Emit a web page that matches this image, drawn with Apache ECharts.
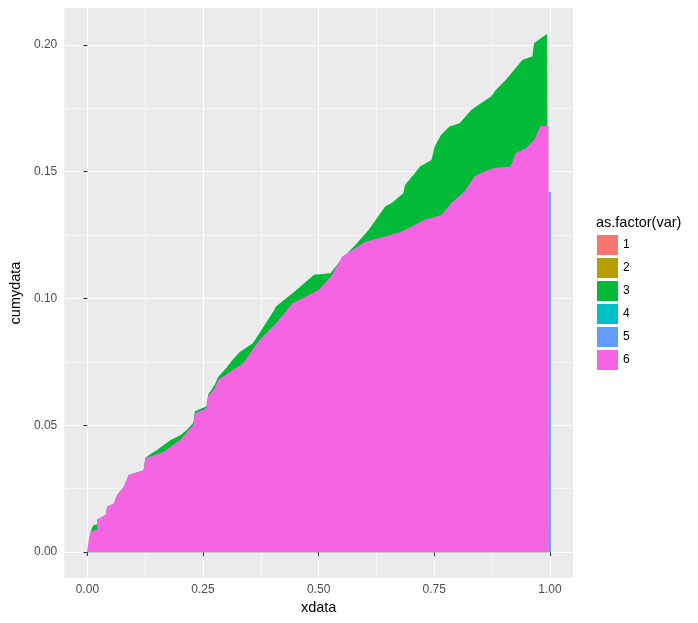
<!DOCTYPE html>
<html>
<head>
<meta charset="utf-8">
<script src="https://cdn.jsdelivr.net/npm/echarts@6/dist/echarts.min.js"></script>
<style>
  html, body { margin: 0; padding: 0; background: #ffffff; }
  #chart { width: 698px; height: 623px; }
</style>
</head>
<body>
<div id="chart"></div>
<script>
// ---- data ----
const categories = ['1', '2', '3', '4', '5', '6'];
const categoryColors = ['#F8766D', '#B79F00', '#00BA38', '#00BFC4', '#619CFF', '#F564E3'];

const xTicks = [0, 0.25, 0.5, 0.75, 1];
const xMinorTicks = [0.125, 0.375, 0.625, 0.875];
const yTicks = [0, 0.05, 0.1, 0.15, 0.2];
const yMinorTicks = [0.025, 0.075, 0.125, 0.175];

// var 6 (bottom of stack): cumulative top [xdata, cumydata]
const var6Points = [
  [0, 0.0005], [0.004, 0.006], [0.0073, 0.0080], [0.0215, 0.0090], [0.0215, 0.0129],
  [0.0395, 0.0146], [0.0429, 0.0179], [0.0573, 0.0192], [0.0644, 0.0225], [0.0788, 0.0258],
  [0.0895, 0.0304], [0.1217, 0.0323], [0.1253, 0.0370], [0.1648, 0.0396], [0.2004, 0.0442],
  [0.2290, 0.0501], [0.2326, 0.0547], [0.2575, 0.0567], [0.2611, 0.0613], [0.2755, 0.0646],
  [0.2826, 0.0679], [0.30, 0.0700], [0.32, 0.0725], [0.3363, 0.0744], [0.372, 0.0836],
  [0.4077, 0.0902], [0.4436, 0.0981], [0.5009, 0.1034], [0.5294, 0.1093], [0.5509, 0.1165],
  [0.5723, 0.1191], [0.6009, 0.1224], [0.6438, 0.1244], [0.6796, 0.1264], [0.7296, 0.1310],
  [0.7654, 0.1329], [0.787, 0.1376], [0.815, 0.1422], [0.837, 0.1481], [0.858, 0.1500],
  [0.880, 0.1514], [0.915, 0.1520], [0.926, 0.1573], [0.948, 0.1592], [0.966, 0.1625],
  [0.976, 0.1665], [0.980, 0.1680], [0.9972, 0.1680], [0.9972, 0]
];

// var 3 (stacked above 6): cumulative top [xdata, cumydata]
const var3Points = [
  [0, 0.0005], [0.0073, 0.0080], [0.012, 0.0105], [0.0215, 0.0110], [0.0215, 0.0129],
  [0.0395, 0.0146], [0.0429, 0.0179], [0.0573, 0.0192], [0.0644, 0.0225], [0.0788, 0.0258],
  [0.0895, 0.0304], [0.1217, 0.0323], [0.1253, 0.0372], [0.135, 0.0385], [0.150, 0.0402],
  [0.165, 0.0422], [0.180, 0.0442], [0.200, 0.0460], [0.215, 0.0481], [0.229, 0.0510],
  [0.2326, 0.0555], [0.2575, 0.0575], [0.2611, 0.0620], [0.2755, 0.0660], [0.2826, 0.0690],
  [0.30, 0.0725], [0.315, 0.0760], [0.33, 0.0790], [0.3363, 0.0797], [0.3577, 0.0823],
  [0.372, 0.0863], [0.4043, 0.0955], [0.4077, 0.0968], [0.4436, 0.1021], [0.4901, 0.1093],
  [0.5258, 0.1099], [0.5509, 0.1158], [0.5794, 0.1211], [0.6081, 0.1270], [0.6438, 0.1362],
  [0.658, 0.1376], [0.683, 0.1415], [0.687, 0.1448], [0.708, 0.1494], [0.719, 0.1520],
  [0.744, 0.1546], [0.751, 0.1599], [0.765, 0.1645], [0.783, 0.1678], [0.805, 0.1691],
  [0.830, 0.1743], [0.851, 0.1770], [0.873, 0.1796], [0.883, 0.1822], [0.905, 0.1862],
  [0.941, 0.1941], [0.962, 0.1954], [0.966, 0.2007], [0.994, 0.2043], [0.9972, 0.2043],
  [0.9972, 0]
];

// var 5: only present at the right edge
const var5Points = [[0.9972, 0.142], [1.0022, 0.142]];

const seriesPoints = { '1': [], '2': [], '3': var3Points, '4': [], '5': var5Points, '6': var6Points };

// ---- chart ----
const xMin = -0.05, xMax = 1.05;
const yMin = -0.0102, yMax = 0.2145;
const fontFam = '"Liberation Sans", Arial, sans-serif';

function fmt(v) { return Number(v).toFixed(2); }

const chart = echarts.init(document.getElementById('chart'), null, { renderer: 'canvas' });

const series = categories.map((c, i) => ({
  name: c,
  type: 'line',
  data: seriesPoints[c],
  showSymbol: false,
  symbol: 'none',
  lineStyle: { width: 0, color: categoryColors[i] },
  itemStyle: { color: categoryColors[i] },
  areaStyle: { color: categoryColors[i], opacity: 1, origin: 0 },
  animation: false,
  silent: true,
  z: 2 + i
}));

const option = {
  animation: false,
  color: categoryColors,
  title: {
    text: 'as.factor(var)',
    left: 596, top: 215, padding: 0,
    textStyle: { fontFamily: fontFam, fontSize: 14.5, fontWeight: 'normal', color: '#000000' }
  },
  legend: {
    data: categories,
    orient: 'vertical',
    left: 597, top: 235,
    padding: 0,
    itemWidth: 21, itemHeight: 20, itemGap: 3,
    icon: 'rect',
    selectedMode: false,
    textStyle: { fontFamily: fontFam, fontSize: 12, color: '#000000' }
  },
  grid: {
    left: 60, top: 8, width: 513, height: 570,
    show: true, backgroundColor: '#EBEBEB', borderWidth: 0,
    containLabel: false
  },
  xAxis: [
    {
      type: 'value', min: xMin, max: xMax,
      name: 'xdata', nameLocation: 'middle', nameGap: 18,
      nameTextStyle: { fontFamily: fontFam, fontSize: 14.5, color: '#000000' },
      axisLine: { show: false },
      axisTick: { show: true, length: 4, customValues: xTicks, lineStyle: { color: '#333333', width: 1 } },
      axisLabel: { customValues: xTicks, formatter: fmt, margin: 6, fontFamily: fontFam, fontSize: 12, color: '#4D4D4D' },
      splitLine: { show: true, lineStyle: { color: '#FFFFFF', width: 1.1 } }
    },
    {
      type: 'value', min: xMin, max: xMax, position: 'bottom',
      axisLine: { show: false },
      axisTick: { show: false, customValues: xMinorTicks },
      axisLabel: { show: false, customValues: xMinorTicks },
      splitLine: { show: true, lineStyle: { color: '#FFFFFF', width: 0.55 } }
    }
  ],
  yAxis: [
    {
      type: 'value', min: yMin, max: yMax,
      name: 'cumydata', nameLocation: 'middle', nameGap: 36,
      nameTextStyle: { fontFamily: fontFam, fontSize: 14.5, color: '#000000' },
      axisLine: { show: false },
      axisTick: { show: true, length: 4, customValues: yTicks, lineStyle: { color: '#333333', width: 1 } },
      axisLabel: { customValues: yTicks, formatter: fmt, margin: 7, fontFamily: fontFam, fontSize: 12, color: '#4D4D4D' },
      splitLine: { show: true, lineStyle: { color: '#FFFFFF', width: 1.1 } }
    },
    {
      type: 'value', min: yMin, max: yMax, position: 'left',
      axisLine: { show: false },
      axisTick: { show: false, customValues: yMinorTicks },
      axisLabel: { show: false, customValues: yMinorTicks },
      splitLine: { show: true, lineStyle: { color: '#FFFFFF', width: 0.55 } }
    }
  ],
  series: series
};

chart.setOption(option);
</script>
</body>
</html>
